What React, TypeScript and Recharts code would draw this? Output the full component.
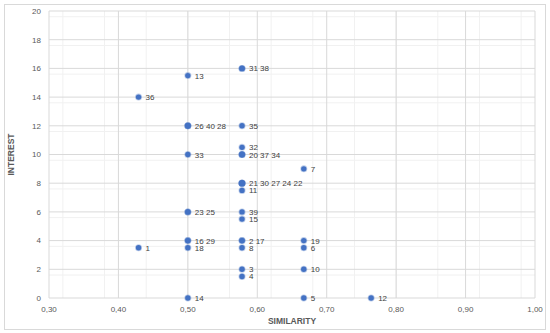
import { ScatterChart, Scatter, XAxis, YAxis, CartesianGrid } from 'recharts'

// point ids, in the order they are stacked on the chart
const ids = [1, 2, 17, 3, 4, 5, 6, 7, 8, 10, 11, 12, 13, 14, 15, 16, 29, 18, 19, 20, 37, 34, 21, 30, 27, 24, 22, 23, 25, 26, 40, 28, 31, 38, 32, 33, 35, 36, 39]
const similarity = [0.429, 0.578, 0.578, 0.578, 0.578, 0.667, 0.667, 0.667, 0.578, 0.667, 0.578, 0.764, 0.5, 0.5, 0.578, 0.5, 0.5, 0.5, 0.667, 0.578, 0.578, 0.578, 0.578, 0.578, 0.578, 0.578, 0.578, 0.5, 0.5, 0.5, 0.5, 0.5, 0.578, 0.578, 0.578, 0.5, 0.578, 0.429, 0.578]
const interest = [3.5, 4, 4, 2, 1.5, 0, 3.5, 9, 3.5, 2, 7.5, 0, 15.5, 0, 5.5, 4, 4, 3.5, 4, 10, 10, 10, 8, 8, 8, 8, 8, 6, 6, 12, 12, 12, 16, 16, 10.5, 10, 12, 14, 6]

const xTicks = [0.3, 0.4, 0.5, 0.6, 0.7, 0.8, 0.9, 1.0]
const yTicks = [0, 2, 4, 6, 8, 10, 12, 14, 16, 18, 20]

// 5 minor divisions per major step
const minorX = xTicks.slice(0, -1).flatMap(t => [0, 1, 2, 3, 4].map(i => +(t + i * 0.02).toFixed(2)))
const minorY = yTicks.slice(0, -1).flatMap(t => [0, 1, 2, 3, 4].map(i => +(t + i * 0.4).toFixed(1)))

// one label per stacked position, ids joined in order
const seen: Record<string, number> = {}
const points = ids.map((id, i) => ({ id, x: similarity[i], y: interest[i], label: '' }))
points.forEach((p, i) => {
  const key = `${p.x}_${p.y}`
  if (seen[key] === undefined) {
    seen[key] = i
    p.label = String(p.id)
  } else {
    points[seen[key]].label += ' ' + p.id
  }
})

const fmt = (v: number) => v.toFixed(2).replace('.', ',')

const font = '"Liberation Sans", Arial, sans-serif'

function Dot(props: any) {
  const { cx, cy, payload } = props
  return (
    <g>
      <circle cx={cx} cy={cy} r={2.7} fill="#4472C4" stroke="rgba(68,114,196,0.35)" strokeWidth={1.6} />
      {payload.label && (
        <text x={cx + 7} y={cy + 0.5} dominantBaseline="central" fontSize={8} fontFamily={font} fill="#404040">
          {payload.label}
        </text>
      )}
    </g>
  )
}

export default function App() {
  return (
    <div style={{ position: 'absolute', left: 0, top: 0, width: 550, height: 333, background: '#fff' }}>
      <div style={{ position: 'absolute', left: 4, top: 4, width: 540, height: 324, border: '1px solid #d9d9d9' }} />
      <ScatterChart width={550} height={333} margin={{ top: 11, right: 15, bottom: 0, left: 0 }}>
        <CartesianGrid verticalValues={minorX} horizontalValues={minorY} stroke="#f1f1f1" />
        <CartesianGrid verticalValues={xTicks} horizontalValues={yTicks} stroke="#d9d9d9" />
        <XAxis
          type="number"
          dataKey="x"
          domain={[0.3, 1]}
          ticks={xTicks}
          tickFormatter={fmt}
          axisLine={false}
          tickLine={false}
          height={35}
          tick={{ fontSize: 8, fill: '#595959', fontFamily: font }}
          label={{ value: 'SIMILARITY', position: 'insideBottom', offset: 9, fontSize: 8.5, fontWeight: 'bold', fill: '#595959', fontFamily: font }}
        />
        <YAxis
          type="number"
          dataKey="y"
          domain={[0, 20]}
          ticks={yTicks}
          axisLine={false}
          tickLine={false}
          width={49}
          tick={{ fontSize: 8, fill: '#595959', fontFamily: font }}
          label={{ value: 'INTEREST', angle: -90, position: 'insideLeft', offset: 11, fontSize: 8.5, fontWeight: 'bold', fill: '#595959', fontFamily: font, style: { textAnchor: 'middle' } }}
        />
        <Scatter data={points} shape={Dot} isAnimationActive={false} />
      </ScatterChart>
    </div>
  )
}
